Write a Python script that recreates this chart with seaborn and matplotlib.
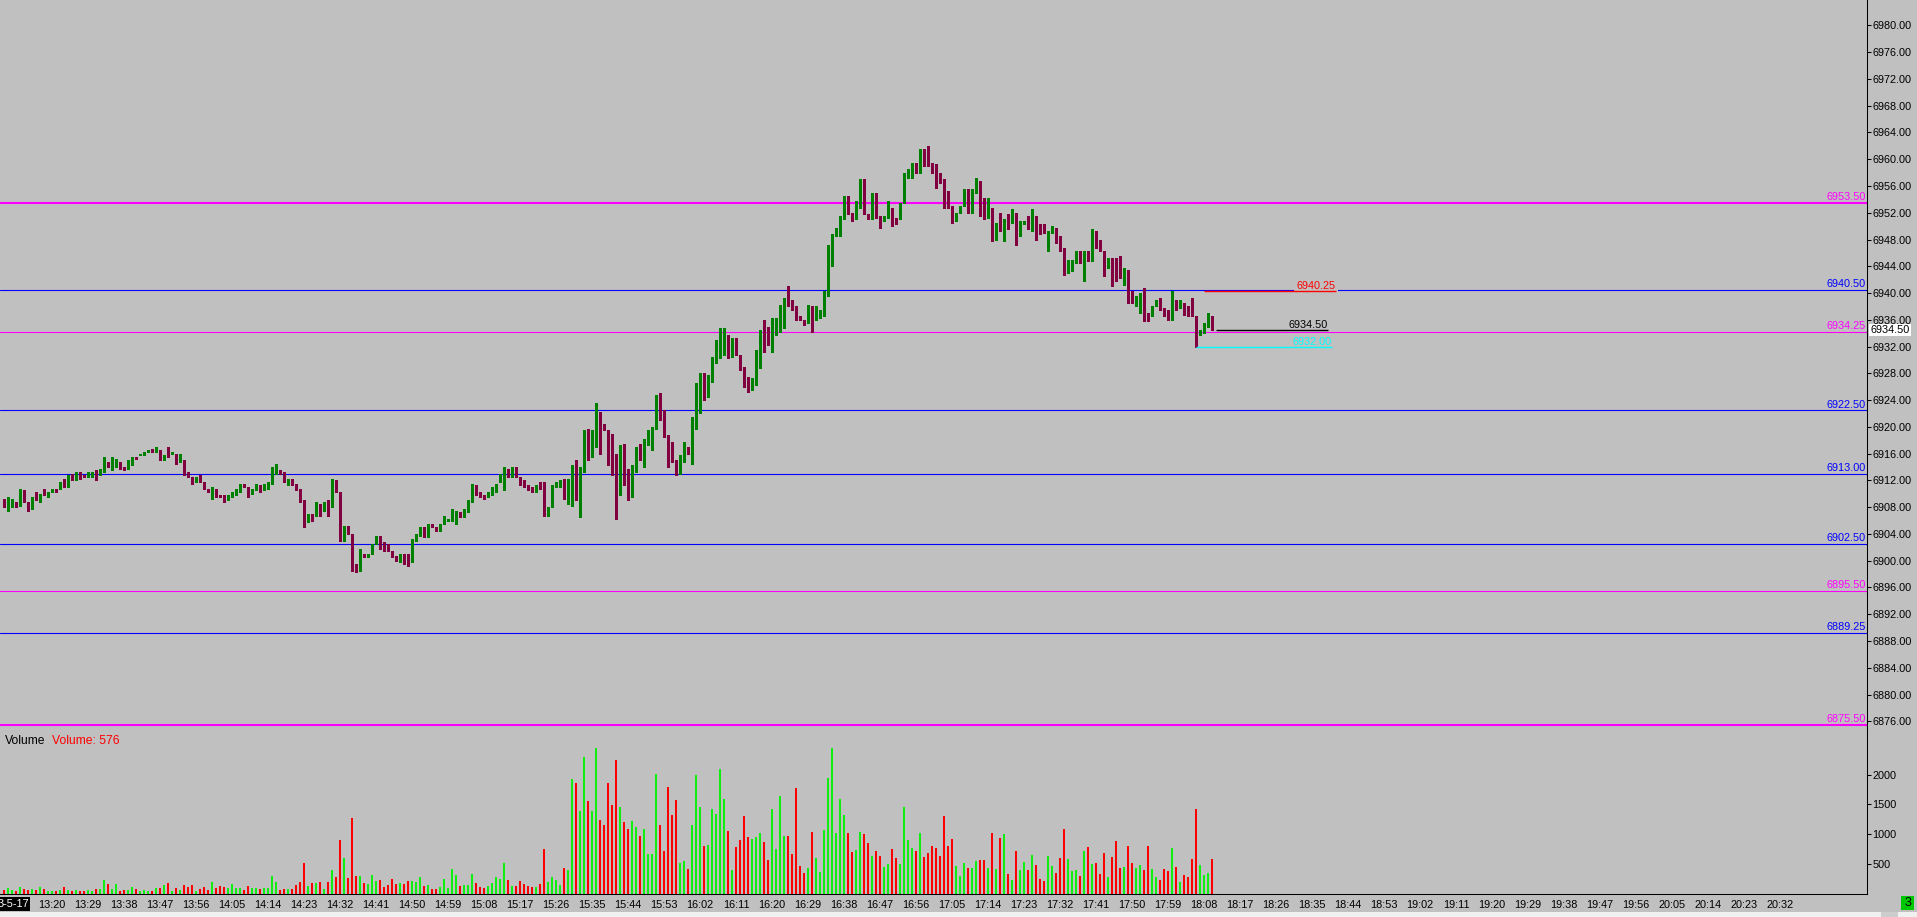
import numpy as np
import pandas as pd
import matplotlib
matplotlib.use("Agg")
import matplotlib.pyplot as plt
import seaborn as sns
from matplotlib.patches import Rectangle

# 1-minute bars, 13:08 .. 18:10
opens = [
    6908.5, 6908.0, 6908.25, 6908.75, 6908.25, 6910.0, 6908.75, 6907.75, 6909.5, 6909.0,
    6910.25, 6909.5, 6910.25, 6910.75, 6910.75, 6911.75, 6911.0, 6912.75, 6912.5, 6913.25,
    6912.75, 6912.5, 6912.5, 6913.5, 6913.25, 6913.5, 6914.75, 6914.0, 6914.5, 6914.75,
    6914.0, 6913.75, 6914.75, 6915.5, 6915.75, 6915.75, 6916.25, 6916.5, 6916.25, 6916.5,
    6915.25, 6916.0, 6916.0, 6916.0, 6914.75, 6915.0, 6913.25, 6912.5, 6912.25, 6912.25,
    6911.75, 6910.75, 6910.5, 6910.75, 6909.75, 6909.75, 6909.0, 6909.5, 6910.5, 6910.25,
    6911.25, 6911.0, 6910.25, 6910.5, 6911.25, 6911.0, 6910.75, 6911.5, 6913.0, 6913.5,
    6913.25, 6911.75, 6912.25, 6911.5, 6910.75, 6909.0, 6905.75, 6906.75, 6906.75, 6908.5,
    6907.5, 6909.0, 6908.0, 6912.0, 6910.25, 6903.0, 6904.75, 6904.0, 6899.5, 6898.5,
    6901.0, 6900.5, 6901.0, 6902.75, 6903.75, 6902.5, 6902.5, 6901.5, 6900.75, 6899.75,
    6901.0, 6899.75, 6899.75, 6903.0, 6903.75, 6904.75, 6903.5, 6905.25, 6905.0, 6904.5,
    6905.5, 6906.0, 6906.0, 6907.25, 6907.25, 6906.5, 6907.25, 6908.75, 6911.25, 6910.25,
    6909.75, 6909.5, 6909.75, 6910.25, 6911.75, 6911.75, 6913.25, 6912.5, 6913.75, 6912.5,
    6911.75, 6911.25, 6910.75, 6910.25, 6911.25, 6911.75, 6907.25, 6908.0, 6911.25, 6911.0,
    6912.0, 6910.25, 6912.0, 6912.5, 6911.25, 6913.25, 6919.0, 6916.25, 6917.0, 6921.75,
    6920.5, 6919.5, 6916.5, 6913.0, 6909.75, 6914.25, 6913.75, 6910.25, 6913.25, 6916.0,
    6915.0, 6917.25, 6919.0, 6919.75, 6922.25, 6921.0, 6918.75, 6916.25, 6915.0, 6913.5,
    6914.75, 6916.5, 6914.5, 6920.25, 6922.25, 6927.5, 6925.5, 6926.75, 6929.75, 6931.75,
    6932.25, 6933.75, 6930.5, 6931.75, 6930.75, 6929.0, 6927.5, 6926.0, 6926.25, 6928.75,
    6934.0, 6933.75, 6932.5, 6934.5, 6935.0, 6935.25, 6939.25, 6939.0, 6937.5, 6936.5,
    6935.75, 6935.5, 6937.5, 6936.0, 6936.25, 6936.5, 6940.0, 6946.75, 6948.75, 6948.75,
    6951.0, 6953.25, 6951.75, 6951.25, 6953.0, 6957.0, 6951.75, 6951.25, 6954.5, 6951.5,
    6951.0, 6951.25, 6952.75, 6951.25, 6951.25, 6953.5, 6957.5, 6958.0, 6959.0, 6958.5,
    6961.5, 6960.5, 6959.5, 6959.25, 6957.75, 6957.0, 6954.5, 6953.0, 6950.75, 6952.0,
    6953.0, 6954.75, 6952.25, 6955.0, 6956.0, 6953.5, 6951.5, 6952.5, 6948.0, 6951.0,
    6950.0, 6950.75, 6950.5, 6951.5, 6948.5, 6950.5, 6951.25, 6949.25, 6951.5, 6949.5,
    6949.25, 6949.0, 6949.25, 6949.75, 6947.5, 6946.75, 6943.75, 6944.5, 6944.5, 6946.25,
    6944.5, 6946.25, 6945.5, 6949.25, 6947.5, 6946.0, 6943.75, 6944.5, 6943.25, 6942.5,
    6942.25, 6943.5, 6940.25, 6939.0, 6938.75, 6940.25, 6937.0, 6936.5, 6938.0, 6939.25,
    6937.75, 6937.5, 6936.0, 6939.0, 6938.0, 6938.5, 6936.75, 6936.75, 6936.5, 6934.0,
    6934.25, 6935.0, 6935.5,
]
highs = [
    6909.25, 6909.5, 6909.25, 6908.75, 6910.75, 6910.5, 6908.75, 6909.5, 6910.25, 6910.0,
    6910.75, 6910.25, 6910.75, 6910.75, 6911.75, 6912.25, 6912.75, 6913.0, 6913.25, 6913.25,
    6912.75, 6913.25, 6913.25, 6913.5, 6913.75, 6915.5, 6914.75, 6915.5, 6915.25, 6914.75,
    6914.0, 6915.0, 6915.5, 6915.5, 6916.0, 6916.25, 6916.5, 6916.75, 6917.0, 6916.5,
    6915.75, 6917.0, 6916.25, 6916.0, 6916.0, 6915.0, 6913.25, 6912.5, 6912.5, 6912.75,
    6911.75, 6910.75, 6911.0, 6910.75, 6909.75, 6909.75, 6909.75, 6910.25, 6910.75, 6911.5,
    6911.5, 6911.0, 6910.75, 6911.5, 6911.25, 6911.5, 6911.75, 6914.0, 6914.5, 6913.5,
    6913.25, 6912.25, 6912.25, 6911.5, 6910.75, 6909.0, 6907.0, 6907.0, 6908.75, 6908.5,
    6908.75, 6909.0, 6912.25, 6912.0, 6910.25, 6905.25, 6905.25, 6904.0, 6899.5, 6901.75,
    6901.0, 6901.0, 6902.5, 6903.75, 6903.75, 6902.75, 6902.5, 6901.5, 6900.75, 6901.0,
    6901.0, 6901.0, 6903.25, 6904.0, 6905.0, 6905.0, 6905.5, 6905.5, 6905.0, 6905.5,
    6906.75, 6906.25, 6907.75, 6907.25, 6907.25, 6907.75, 6909.0, 6911.5, 6911.25, 6910.25,
    6909.75, 6910.25, 6911.0, 6911.5, 6913.0, 6914.0, 6913.75, 6914.0, 6914.0, 6912.5,
    6912.0, 6911.25, 6911.0, 6911.25, 6911.75, 6911.75, 6908.0, 6911.25, 6911.75, 6912.0,
    6912.25, 6912.25, 6914.25, 6915.0, 6914.0, 6919.5, 6919.75, 6919.5, 6923.5, 6922.25,
    6920.5, 6919.5, 6919.0, 6916.0, 6917.25, 6917.5, 6913.75, 6914.25, 6917.0, 6917.5,
    6918.25, 6919.5, 6920.0, 6924.75, 6925.0, 6922.5, 6918.75, 6917.75, 6915.0, 6915.75,
    6917.75, 6917.0, 6921.5, 6926.5, 6928.0, 6928.0, 6927.75, 6930.5, 6933.0, 6934.75,
    6934.75, 6933.75, 6933.25, 6933.25, 6930.75, 6929.0, 6927.5, 6927.25, 6931.5, 6934.5,
    6936.0, 6935.0, 6936.25, 6936.25, 6938.25, 6939.25, 6941.0, 6939.0, 6938.0, 6936.5,
    6936.0, 6938.25, 6938.0, 6938.0, 6937.5, 6940.25, 6947.25, 6948.75, 6949.75, 6951.5,
    6954.5, 6954.5, 6952.0, 6953.75, 6957.0, 6957.0, 6951.75, 6955.0, 6955.0, 6951.5,
    6951.5, 6953.75, 6952.75, 6951.25, 6953.5, 6958.0, 6958.5, 6959.5, 6959.5, 6961.5,
    6961.5, 6962.0, 6959.5, 6959.25, 6958.0, 6957.0, 6955.25, 6953.0, 6952.0, 6953.0,
    6955.5, 6955.5, 6955.5, 6957.25, 6956.75, 6954.25, 6954.25, 6952.75, 6950.5, 6952.0,
    6951.0, 6951.75, 6952.5, 6952.0, 6950.75, 6950.75, 6951.5, 6952.5, 6951.5, 6950.25,
    6950.25, 6949.25, 6950.0, 6949.75, 6948.5, 6946.75, 6945.0, 6945.0, 6946.25, 6946.25,
    6946.25, 6946.25, 6949.5, 6949.25, 6948.0, 6946.25, 6945.25, 6945.25, 6945.25, 6945.5,
    6943.75, 6943.5, 6940.25, 6939.5, 6940.0, 6940.75, 6937.0, 6938.0, 6939.0, 6939.25,
    6937.75, 6937.5, 6940.25, 6939.0, 6939.0, 6938.5, 6938.0, 6939.25, 6936.5, 6934.5,
    6935.5, 6937.0, 6936.5,
]
lows = [
    6908.0, 6907.5, 6908.0, 6908.0, 6908.25, 6908.75, 6907.5, 6907.75, 6909.0, 6908.75,
    6909.75, 6909.5, 6910.25, 6910.25, 6910.75, 6911.0, 6911.0, 6912.0, 6912.0, 6912.25,
    6912.5, 6912.5, 6912.5, 6912.0, 6912.75, 6913.25, 6914.0, 6913.5, 6914.0, 6913.75,
    6913.5, 6913.75, 6914.25, 6915.25, 6915.75, 6915.75, 6916.25, 6916.25, 6916.25, 6915.0,
    6915.0, 6915.5, 6916.0, 6914.5, 6914.75, 6912.75, 6912.5, 6911.5, 6911.75, 6911.75,
    6910.75, 6910.25, 6909.25, 6909.5, 6909.5, 6908.75, 6909.0, 6909.5, 6909.75, 6910.25,
    6911.0, 6909.5, 6910.0, 6910.5, 6910.25, 6910.5, 6910.75, 6911.5, 6913.0, 6913.0,
    6911.75, 6911.25, 6911.25, 6910.5, 6908.75, 6905.0, 6905.75, 6906.0, 6906.75, 6906.75,
    6907.5, 6906.75, 6908.0, 6910.25, 6903.0, 6903.0, 6904.0, 6898.5, 6898.25, 6898.5,
    6900.5, 6900.5, 6901.0, 6902.5, 6901.75, 6901.5, 6901.5, 6900.5, 6900.0, 6899.75,
    6899.5, 6899.25, 6899.75, 6903.0, 6903.75, 6903.5, 6903.5, 6905.0, 6904.5, 6904.5,
    6905.5, 6906.0, 6906.0, 6905.5, 6906.5, 6906.5, 6907.25, 6908.75, 6909.75, 6909.5,
    6909.25, 6909.5, 6909.75, 6910.25, 6911.75, 6910.5, 6912.5, 6912.5, 6912.5, 6911.25,
    6911.0, 6910.5, 6910.25, 6910.25, 6910.75, 6906.75, 6906.75, 6908.0, 6911.0, 6911.0,
    6909.25, 6908.5, 6908.25, 6909.0, 6906.5, 6913.25, 6915.0, 6915.5, 6917.0, 6916.0,
    6919.5, 6914.25, 6912.75, 6906.25, 6909.75, 6911.25, 6909.0, 6909.5, 6913.25, 6915.0,
    6914.0, 6917.25, 6916.5, 6919.75, 6921.0, 6918.5, 6914.0, 6914.75, 6912.75, 6913.0,
    6914.75, 6916.0, 6914.5, 6919.75, 6922.0, 6924.0, 6924.5, 6926.75, 6929.5, 6930.25,
    6930.75, 6930.25, 6930.5, 6930.75, 6928.5, 6926.0, 6925.25, 6925.5, 6926.25, 6928.75,
    6931.25, 6932.25, 6931.25, 6933.75, 6934.25, 6934.75, 6938.0, 6937.5, 6936.0, 6936.0,
    6935.25, 6935.5, 6934.25, 6936.0, 6936.25, 6936.5, 6939.5, 6944.0, 6948.5, 6948.5,
    6951.0, 6951.75, 6950.75, 6951.0, 6952.75, 6951.75, 6951.0, 6951.0, 6951.25, 6949.75,
    6950.75, 6951.25, 6950.0, 6950.25, 6951.0, 6953.5, 6957.25, 6957.25, 6958.0, 6958.0,
    6959.0, 6959.0, 6958.0, 6955.75, 6956.5, 6952.75, 6952.75, 6950.5, 6950.75, 6952.0,
    6953.0, 6952.0, 6952.0, 6955.0, 6951.5, 6951.0, 6951.25, 6947.75, 6948.0, 6949.25,
    6947.75, 6949.5, 6950.5, 6947.25, 6948.5, 6950.25, 6949.5, 6949.25, 6948.0, 6948.75,
    6949.0, 6946.25, 6949.0, 6947.5, 6946.25, 6942.75, 6943.0, 6943.25, 6944.5, 6944.5,
    6941.75, 6944.75, 6944.75, 6946.75, 6946.25, 6942.5, 6943.75, 6941.0, 6941.75, 6942.25,
    6941.25, 6938.5, 6938.5, 6938.0, 6937.0, 6935.75, 6935.75, 6936.5, 6938.0, 6937.5,
    6936.5, 6936.0, 6936.0, 6937.5, 6937.75, 6936.75, 6936.5, 6936.5, 6932.0, 6933.75,
    6934.0, 6935.0, 6934.5,
]
closes = [
    6908.0, 6908.75, 6908.75, 6908.0, 6910.0, 6908.75, 6907.5, 6909.5, 6909.0, 6910.0,
    6909.75, 6910.0, 6910.5, 6910.25, 6911.75, 6911.0, 6912.75, 6912.5, 6913.25, 6912.5,
    6912.5, 6913.25, 6913.25, 6912.5, 6913.75, 6915.0, 6914.0, 6914.75, 6915.0, 6913.75,
    6913.75, 6915.0, 6915.5, 6915.25, 6916.0, 6916.25, 6916.5, 6916.25, 6916.5, 6915.5,
    6915.75, 6915.5, 6916.25, 6914.75, 6915.25, 6913.25, 6912.5, 6911.75, 6912.25, 6911.75,
    6910.75, 6910.25, 6911.0, 6909.5, 6909.5, 6909.0, 6909.75, 6910.25, 6910.75, 6911.25,
    6911.0, 6910.25, 6910.5, 6911.25, 6910.25, 6911.0, 6911.5, 6913.5, 6913.75, 6913.0,
    6911.75, 6912.25, 6911.25, 6910.5, 6909.0, 6905.75, 6906.75, 6906.5, 6908.75, 6907.25,
    6908.5, 6908.0, 6911.75, 6910.25, 6903.0, 6904.5, 6904.0, 6899.5, 6898.75, 6901.0,
    6900.75, 6901.0, 6902.5, 6903.75, 6902.5, 6902.25, 6901.5, 6900.5, 6900.0, 6901.0,
    6899.5, 6899.5, 6903.25, 6903.75, 6904.5, 6903.5, 6905.25, 6905.0, 6904.5, 6905.5,
    6906.0, 6906.0, 6907.25, 6907.25, 6906.5, 6907.75, 6908.5, 6911.25, 6910.0, 6909.5,
    6909.5, 6909.75, 6910.25, 6911.5, 6911.75, 6913.25, 6913.0, 6914.0, 6912.5, 6911.75,
    6911.0, 6910.5, 6910.25, 6911.25, 6910.75, 6907.25, 6908.0, 6911.25, 6911.25, 6912.0,
    6910.25, 6912.25, 6912.75, 6911.25, 6913.25, 6919.0, 6916.25, 6917.75, 6922.0, 6920.5,
    6919.5, 6916.5, 6912.75, 6909.75, 6914.25, 6913.5, 6910.25, 6913.25, 6916.5, 6915.0,
    6917.75, 6919.0, 6919.75, 6922.25, 6921.0, 6918.5, 6915.75, 6914.75, 6914.0, 6914.75,
    6916.25, 6916.0, 6920.25, 6922.25, 6927.25, 6925.5, 6926.5, 6930.0, 6932.0, 6932.25,
    6933.5, 6930.25, 6931.75, 6931.0, 6928.5, 6927.25, 6926.0, 6926.75, 6928.75, 6934.0,
    6933.0, 6932.5, 6935.0, 6935.0, 6935.5, 6939.0, 6938.75, 6937.75, 6936.0, 6936.0,
    6935.5, 6937.0, 6935.5, 6936.25, 6936.5, 6940.0, 6947.0, 6948.5, 6949.0, 6951.5,
    6953.25, 6951.75, 6951.0, 6953.25, 6957.0, 6951.75, 6951.0, 6954.5, 6951.25, 6951.0,
    6951.5, 6952.5, 6950.75, 6950.75, 6953.5, 6957.5, 6958.0, 6959.25, 6958.5, 6961.25,
    6960.5, 6959.0, 6959.25, 6957.75, 6957.0, 6954.0, 6953.0, 6950.75, 6952.0, 6953.0,
    6954.75, 6952.0, 6955.25, 6956.5, 6952.25, 6952.25, 6952.75, 6948.5, 6950.5, 6950.0,
    6950.0, 6949.75, 6951.75, 6948.0, 6950.75, 6950.75, 6950.25, 6951.25, 6949.25, 6949.25,
    6949.0, 6949.25, 6949.5, 6947.5, 6946.25, 6944.0, 6944.5, 6944.5, 6946.25, 6944.5,
    6946.25, 6945.5, 6949.0, 6947.5, 6946.25, 6944.0, 6944.5, 6943.0, 6942.5, 6942.25,
    6943.75, 6940.25, 6938.5, 6939.0, 6940.0, 6937.0, 6936.25, 6938.0, 6939.0, 6937.75,
    6937.5, 6936.25, 6938.5, 6938.5, 6938.5, 6936.75, 6936.5, 6936.5, 6934.0, 6934.5,
    6935.25, 6935.75, 6934.5,
]
volumes = [
    56, 90, 56, 34, 106, 73, 56, 73, 56, 106,
    73, 39, 39, 39, 56, 106, 56, 39, 56, 39,
    39, 56, 39, 73, 73, 224, 157, 73, 157, 39,
    56, 56, 106, 73, 39, 56, 39, 39, 90, 90,
    140, 174, 39, 90, 56, 140, 106, 140, 39, 73,
    106, 56, 190, 90, 123, 106, 90, 157, 90, 90,
    56, 123, 90, 90, 73, 90, 90, 291, 190, 56,
    73, 73, 73, 140, 190, 510, 123, 174, 174, 190,
    73, 190, 392, 274, 896, 594, 258, 1266, 291, 291,
    174, 157, 308, 207, 224, 106, 140, 241, 157, 174,
    157, 207, 207, 190, 274, 123, 140, 73, 73, 106,
    241, 90, 409, 308, 123, 140, 140, 325, 174, 112,
    95, 129, 179, 280, 246, 515, 230, 129, 129, 213,
    162, 129, 112, 112, 162, 750, 196, 280, 230, 146,
    431, 398, 1926, 1859, 1389, 2296, 1557, 1389, 2447, 1238,
    1154, 1859, 1490, 2246, 1456, 1204, 1086, 1221, 1120, 969,
    1086, 666, 666, 2010, 1154, 717, 1792, 1322, 1574, 515,
    549, 414, 1154, 1994, 1456, 801, 818, 1422, 1338, 2094,
    1590, 1053, 398, 784, 902, 1305, 952, 918, 952, 1019,
    868, 566, 1422, 750, 1641, 969, 969, 666, 1775, 465,
    347, 431, 1036, 599, 364, 1070, 1943, 2447, 1019, 1590,
    1322, 1019, 700, 734, 1036, 1002, 851, 633, 717, 633,
    448, 498, 750, 599, 498, 1456, 902, 767, 717, 1019,
    616, 683, 801, 767, 633, 1305, 801, 918, 465, 297,
    515, 431, 431, 549, 566, 566, 431, 1019, 414, 935,
    1002, 330, 224, 711, 392, 526, 392, 644, 476, 241,
    207, 627, 459, 342, 594, 1081, 577, 375, 392, 291,
    711, 778, 493, 510, 325, 678, 274, 610, 879, 426,
    442, 795, 510, 426, 476, 392, 795, 409, 274, 224,
    409, 375, 762, 442, 190, 308, 274, 577, 1417, 476,
    308, 342, 576,
]

time_labels = [
    "13:20", "13:29", "13:38", "13:47", "13:56", "14:05", "14:14", "14:23", "14:32",
    "14:41", "14:50", "14:59", "15:08", "15:17", "15:26", "15:35", "15:44", "15:53",
    "16:02", "16:11", "16:20", "16:29", "16:38", "16:47", "16:56", "17:05", "17:14",
    "17:23", "17:32", "17:41", "17:50", "17:59", "18:08", "18:17", "18:26", "18:35",
    "18:44", "18:53", "19:02", "19:11", "19:20", "19:29", "19:38", "19:47", "19:56",
    "20:05", "20:14", "20:23", "20:32",
]
date_label = "3-5-17"

level_values = [6953.50, 6940.50, 6934.25, 6922.50, 6913.00, 6902.50, 6895.50, 6889.25, 6875.50]
level_kinds = ["pink", "blue", "pink", "blue", "blue", "blue", "pink", "blue", "pink"]

marker_values = [6940.25, 6934.50, 6932.00]
last_price = 6934.50
last_volume = 576

# colours / sizes
BG = "#c0c0c0"
UP, DOWN = "#008000", "#800040"
VUP, VDOWN = "#10ee10", "#ff0000"
FS = 7.8
W, H = 1917, 917


def rect(x0, y0, x1, y1):
    return [x0 / W, 1 - y1 / H, (x1 - x0) / W, (y1 - y0) / H]


def main():
    sns.set_style("white")
    plt.rcParams["font.family"] = ["Liberation Sans", "DejaVu Sans"]

    o = np.array(opens)
    hi = np.array(highs)
    lo = np.array(lows)
    c = np.array(closes)
    idx = np.arange(len(o))
    up = c >= o
    cols = np.where(up, UP, DOWN)

    fig = plt.figure(figsize=(W / 100, H / 100), dpi=100, facecolor=BG)
    ax = fig.add_axes(rect(0, 0, 1867, 731))
    axv = fig.add_axes(rect(0, 731, 1867, 893.5))
    for a in (ax, axv):
        a.set_facecolor(BG)
        for s in a.spines.values():
            s.set_visible(False)
        a.spines["right"].set_visible(True)
        a.spines["right"].set_color("black")
        a.spines["right"].set_linewidth(0.75)
    axv.spines["bottom"].set_visible(True)
    axv.spines["bottom"].set_color("black")
    axv.spines["bottom"].set_linewidth(0.75)

    # price levels
    lvl_style = {"pink": "#ff00ff", "blue": "#0000ff"}
    lvl_width = {6953.50: 1.5, 6875.50: 1.5}
    for v, kind in zip(level_values, level_kinds):
        col = lvl_style[kind]
        ax.axhline(v, color=col, lw=lvl_width.get(v, 0.8), zorder=1)
        ax.annotate(f"{v:.2f}", xy=(1, v), xycoords=("axes fraction", "data"),
                    xytext=(-1, 0.5), textcoords="offset pixels", ha="right", va="bottom",
                    color=col, fontsize=FS, zorder=2)

    # candles
    ax.vlines(idx, lo, hi, colors=cols, linewidth=0.75, antialiased=False, zorder=3)
    body = np.maximum(np.abs(c - o), 0.15)
    ax.bar(idx, body, bottom=np.minimum(o, c), width=0.75, color=cols,
           linewidth=0, antialiased=False, zorder=4)

    # short marker lines near last bar
    marker_cols = ["#ff0000", "#000000", "#00ffff"]
    marker_span = [(300, 333), (303, 331), (298, 332)]
    for v, col, (x0, x1) in zip(marker_values, marker_cols, marker_span):
        ax.hlines(v, x0, x1, color=col, lw=1.0, zorder=7)
        ax.text(x1, v, f"{v:.2f}", color=col, fontsize=FS, ha="right", va="bottom",
                bbox=dict(boxstyle="square,pad=0.22", fc=BG, ec="none"), zorder=6)

    ax.set_xlim(-1, 465.75)
    ax.set_ylim(6874.555, 6983.79)
    ax.yaxis.tick_right()
    ax.set_yticks(np.arange(6876, 6981, 4))
    ax.set_yticklabels([f"{v:.2f}" for v in np.arange(6876, 6981, 4)])
    ax.tick_params(axis="y", direction="out", length=3, width=0.75, pad=1,
                   labelsize=FS, colors="black", right=True, left=False)
    ax.tick_params(axis="x", bottom=False, labelbottom=False)
    ax.annotate(f"{last_price:.2f}", xy=(1, last_price), xycoords=("axes fraction", "data"),
                xytext=(3, 0), textcoords="offset pixels", ha="left", va="center",
                fontsize=FS, color="black", annotation_clip=False, zorder=10,
                bbox=dict(boxstyle="square,pad=0.12", fc="white", ec="none"))

    # volume
    df = pd.DataFrame({"idx": idx, "volume": volumes, "dir": np.where(up, "up", "down")})
    sns.barplot(data=df, x="idx", y="volume", hue="dir", palette={"up": VUP, "down": VDOWN},
                native_scale=True, width=0.5, dodge=False, errorbar=None, legend=False,
                saturation=1, linewidth=0, ax=axv)
    axv.set_xlabel("")
    axv.set_ylabel("")
    axv.set_xlim(-1, 465.75)
    axv.set_ylim(0, 2738)
    axv.yaxis.tick_right()
    axv.set_yticks([500, 1000, 1500, 2000])
    axv.set_yticklabels(["500", "1000", "1500", "2000"])
    axv.tick_params(axis="y", direction="out", length=3, width=0.75, pad=1,
                    labelsize=FS, colors="black", right=True, left=False)
    xt = [0] + [12 + 9 * i for i in range(len(time_labels))]
    axv.set_xticks(xt)
    axv.set_xticklabels([""] + time_labels)
    axv.tick_params(axis="x", direction="out", length=3, width=0.75, pad=1.5,
                    labelsize=FS, colors="black")

    fig.text(5 / W, 1 - 741 / H, "Volume", fontsize=8.7, color="black", va="center")
    fig.text(52 / W, 1 - 741 / H, f"Volume: {last_volume}", fontsize=8.7,
             color="#ff0000", va="center")

    # date box, status box and scrollbar strip
    fig.patches.append(Rectangle((0, 1 - 911 / H), 30 / W, 14 / H, transform=fig.transFigure,
                                 fc="black", ec="none"))
    fig.text(29 / W, 1 - 904 / H, date_label, color="white", fontsize=FS, ha="right", va="center")
    fig.patches.append(Rectangle((0, 0), 1, 5 / H, transform=fig.transFigure,
                                 fc="#f0f0f0", ec="none"))
    fig.patches.append(Rectangle((1881 / W, 0), 17 / W, 5 / H, transform=fig.transFigure,
                                 fc="#cdcdcd", ec="none"))
    fig.patches.append(Rectangle((1901 / W, 1 - 910 / H), 13 / W, 14 / H,
                                 transform=fig.transFigure, fc="#00c800", ec="none"))
    fig.text(1907.5 / W, 1 - 903 / H, "3", color="black", fontsize=9, ha="center", va="center")

    fig.savefig("out.png", dpi=100, facecolor=BG)


if __name__ == "__main__":
    main()
